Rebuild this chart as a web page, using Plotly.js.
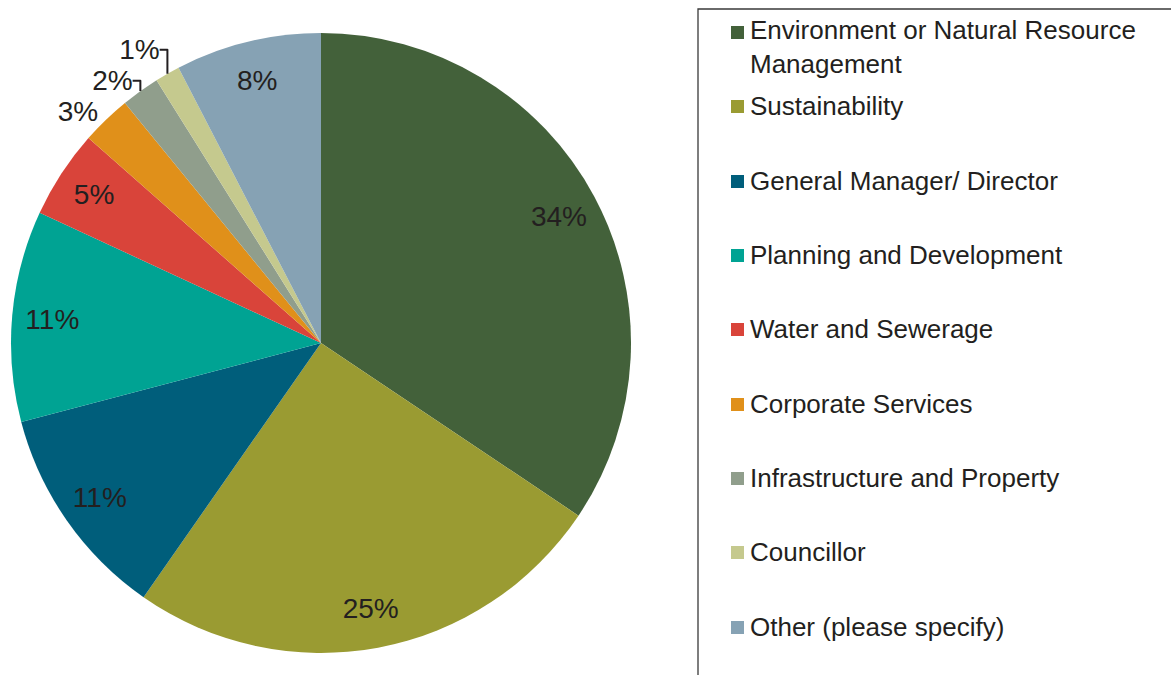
<!DOCTYPE html>
<html>
<head>
<meta charset="utf-8">
<script src="https://cdn.plot.ly/plotly-3.0.1.min.js"></script>
<style>html,body{margin:0;padding:0;background:#fff;} #chart{width:1171px;height:675px;}</style>
</head>
<body>
<div id="chart"></div>
<script>
// Data
var categories = [
  "Environment or Natural Resource<br>Management",
  "Sustainability",
  "General Manager/ Director",
  "Planning and Development",
  "Water and Sewerage",
  "Corporate Services",
  "Infrastructure and Property",
  "Councillor",
  "Other (please specify)"
];
var values = [34.4, 25.3, 11.2, 11.0, 4.6, 2.6, 2.0, 1.3, 7.6];
var colors = ["#43613a", "#9a9b32", "#005e7b", "#00a393", "#d9443a", "#e0901a", "#909e8c", "#c5c98e", "#86a2b4"];
var textPositions = ["inside", "inside", "inside", "inside", "inside", "outside", "outside", "outside", "inside"];

var W = 1171, H = 675;
function px(x) { return x / W; }
function py(y) { return (H - y) / H; }

var cx = 321, cy = 343, R = 310;
var FONT = "Liberation Sans, Arial, sans-serif";
var domain = { x: [px(cx - R), px(cx + R)], y: [py(cy + R), py(cy - R)] };

// Filled pie (no text)
var pie = {
  type: "pie",
  labels: categories,
  values: values,
  sort: false,
  direction: "clockwise",
  rotation: 0,
  marker: { colors: colors, line: { width: 0 } },
  textinfo: "none",
  hoverinfo: "label+percent",
  domain: domain,
  showlegend: false
};

// Transparent ring on top carrying the percentage labels (places them near the rim)
var labelRing = {
  type: "pie",
  labels: categories,
  values: values,
  sort: false,
  direction: "clockwise",
  rotation: 0,
  hole: 0.74,
  marker: { colors: values.map(function () { return "rgba(0,0,0,0)"; }), line: { width: 0 } },
  textposition: textPositions,
  texttemplate: "%{percent:.0%}",
  insidetextorientation: "horizontal",
  textfont: { family: FONT, size: 28, color: "#231f20" },
  outsidetextfont: { family: FONT, size: 28, color: "#231f20" },
  hoverinfo: "skip",
  domain: domain,
  showlegend: false
};

// Custom legend built from the category/color arrays
var rowY = [47, 106, 181, 255, 329, 404, 478, 552, 627];
var squareY = [32, 106, 181, 255, 329, 404, 478, 552, 627];
var annotations = [];
var shapes = [
  { type: "rect", xref: "paper", yref: "paper", x0: px(698), x1: px(1180), y0: py(690), y1: py(9),
    line: { color: "#3a3a3a", width: 1.3 }, fillcolor: "rgba(0,0,0,0)" }
];
for (var i = 0; i < categories.length; i++) {
  annotations.push({
    xref: "paper", yref: "paper", x: px(748), y: py(rowY[i]),
    xanchor: "left", yanchor: "middle", align: "left", showarrow: false,
    text: categories[i],
    font: { family: FONT, size: 26, color: "#231f20" }
  });
  shapes.push({
    type: "rect", xref: "paper", yref: "paper",
    x0: px(731), x1: px(744), y0: py(squareY[i] + 7), y1: py(squareY[i] - 6),
    fillcolor: colors[i], line: { width: 0 }
  });
}

var layout = {
  width: W, height: H,
  margin: { l: 0, r: 0, t: 0, b: 0 },
  paper_bgcolor: "#ffffff",
  showlegend: false,
  annotations: annotations,
  shapes: shapes
};

Plotly.newPlot("chart", [pie, labelRing], layout, { displayModeBar: false, staticPlot: true });
</script>
</body>
</html>
